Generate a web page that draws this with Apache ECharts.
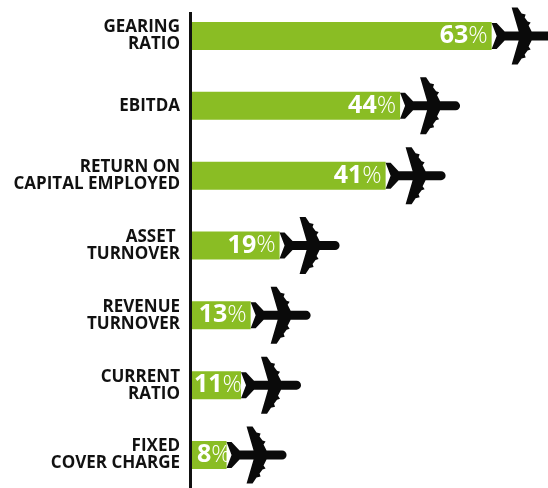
<!DOCTYPE html>
<html><head><meta charset="utf-8">
<style>html,body{margin:0;padding:0;background:#fff}#c{width:548px;height:488px}</style>
<script src="https://cdn.jsdelivr.net/npm/echarts@6/dist/echarts.min.js"></script>
</head><body><div id="c"></div>
<script>
const categories = ["GEARING\nRATIO","EBITDA","RETURN ON\nCAPITAL EMPLOYED","ASSET \nTURNOVER","REVENUE\nTURNOVER","CURRENT\nRATIO","FIXED\nCOVER CHARGE"];
const values = [63,44,41,19,13,11,8];
const plane = "path://M0,15.5 L5,15.5 L13,24 L27,24 L20,0 L26,0 L30,6 L34,7 L33,10 L36,14 L39,15 L37,18 L40,24 L55.5,24 A4.5,4.5 0 0 1 55.5,33 L40,33 L37,39 L39,42 L36,43 L33,47 L34,50 L30,51 L26,57 L20,57 L27,33 L13,33 L5,41.5 L0,41.5 L5,28.5 Z";
const labelRich = {n:{fontFamily:'Open Sans',fontWeight:700,fontSize:25,color:'#fff'},
                   p:{fontFamily:'Open Sans',fontWeight:300,fontSize:24,color:'#fff'}};
const chart = echarts.init(document.getElementById('c'),null,{renderer:'canvas'});
chart.setOption({
  animation:false,
  backgroundColor:'#fff',
  grid:{left:192,right:0,top:36,bottom:33},
  xAxis:{type:'value',min:0.83,max:74.69,show:false},
  yAxis:{type:'category',inverse:true,boundaryGap:false,data:categories,
    axisLine:{show:false},axisTick:{show:false},
    axisLabel:{margin:12,align:'right',fontFamily:'Open Sans',fontWeight:700,fontSize:17,lineHeight:17,color:'#111'}},
  graphic:[{type:'line',z:100,shape:{x1:190.5,y1:12,x2:190.5,y2:488},style:{stroke:'#111',lineWidth:3}}],
  series:[
    {type:'bar',barWidth:28,itemStyle:{color:'#8abd24'},z:2,
     data:values.map(v=>v<12?{value:v,label:{position:'insideLeft',distance:v<10?5:2}}:v),
     label:{show:true,position:'insideRight',distance:4,
       formatter:p=>`{n|${p.value}}{p|%}`,rich:labelRich}},
    {type:'scatter',data:values.map((v,i)=>[v,i]),symbol:plane,symbolSize:[60,57],symbolOffset:[30,0],
     itemStyle:{color:'#0a0a0a',opacity:1},clip:false,z:3}
  ]
});
</script></body></html>
